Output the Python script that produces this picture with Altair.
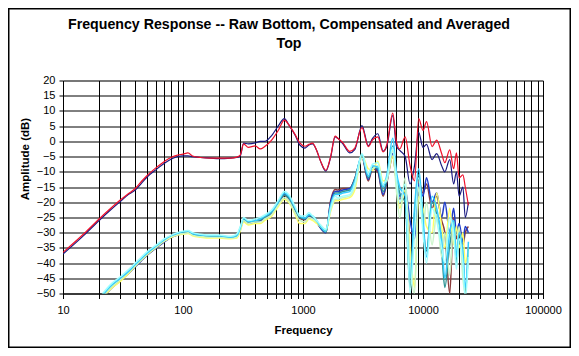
import altair as alt
import pandas as pd

FREQ = [10, 15, 20, 25, 30, 35, 40, 45, 50, 60, 70, 80, 90, 100, 110, 120, 140, 170, 200, 250,
        280, 300, 320, 350, 400, 440, 480, 550, 620, 700, 760, 860, 940, 1040, 1120, 1200, 1300,
        1400, 1550, 1700, 1850, 1950, 2150, 2450, 2700, 3100, 3500, 3800, 4200, 4650, 5000, 5600,
        6000, 6400, 7100, 7800, 8500, 9200, 10000, 10700, 11900, 13000, 14300, 15200, 16700, 18000,
        19000, 20000, 21500, 22500, 23900]

# lower (compensated / averaged top) curves
low_darkred = [None, None, -52.8, -48.3, -45.6, -43.3, -41, -39, -37.3, -34.8, -32.8, -31.4, -30.7, -30.2,
               -30, -30.8, -31.2, -31.3, -31.3, -31.8, -31.4, -28.8, -25.6, -26.8, -26.4, -26, -25.2, -23.6,
               -20.6, -17.8, -18.8, -22.6, -25.3, -25.8, -24.6, -25.2, -26.6, -28.4, -30, -19.5, -15.8, -16,
               -15.5, -15.5, -12.2, -5.2, -13, -9, -10, -18, -13.5, -5, -13, -19, -16, -30, -30, -13, -17,
               -14, -22, -18, -26, -30, -50, -25, -32, -29, -34, -30, -28]
low_blue = [None, None, -53, -48.5, -45.8, -43.5, -41.2, -39.2, -37.5, -35, -33, -31.5, -30.8, -30.2, -30,
            -30.5, -31.2, -31.3, -31.2, -31.8, -31.5, -29, -26, -27, -26.5, -26, -25, -23.5, -20.5, -17.5,
            -18.5, -22.5, -25, -25.5, -24.5, -25, -26.5, -28.5, -30, -20, -16.5, -16.5, -16, -15.5, -12.5,
            -5, -12.5, -8.5, -9.5, -17.5, -13, -4, -13, -18, -16, -26, -32, -14, -18, -12, -20, -17, -25,
            -20, -30, -22, -30, -27, -33, -28, -30]
low_teal = [None, None, -52.5, -48, -45.3, -43, -40.7, -38.7, -37, -34.5, -32.5, -31.2, -30.5, -30, -29.8,
            -30.6, -31, -31.2, -31.2, -31.6, -31.2, -28.5, -25.5, -26.5, -26.2, -25.8, -25, -23.3, -20.3,
            -17.6, -18.6, -22.3, -25, -25.5, -24.3, -24.8, -26.3, -28.2, -29.8, -21, -17, -17, -16.5, -16,
            -12.5, -4.8, -12, -8.5, -9, -16.5, -12.5, -1.5, -11, -17, -20, -48, -24, -11, -28, -36, -20,
            -24, -36, -48, -34, -28, -40, -33, -38, -50, -35]
low_yellow = [None, None, -53, -48.5, -46, -43.5, -41, -39, -37.3, -34.8, -32.8, -31.5, -30.8, -30.5, -30.3,
              -31, -31.5, -31.8, -31.8, -32, -31.8, -29.5, -26.5, -27.5, -27, -27, -26, -24.5, -21.5, -19,
              -20, -24, -27, -27, -25.5, -26, -27, -28, -29.5, -23, -19.5, -19.5, -19, -18.5, -16, -4.5, -9,
              -9.5, -6.5, -13, -12, -5, -14, -22, -16, -35, -48, -18, -22, -28, -30, -17, -28, -35, -22,
              -34, -28, -35, -30, -40, -35]
low_palegreen = [None, None, -52.5, -48, -45.5, -43, -40.8, -38.8, -37, -34.6, -32.6, -31.3, -30.6, -30.3,
                 -30, -30.8, -31.3, -31.5, -31.5, -31.8, -31.5, -29, -26, -27, -26.5, -26.5, -25.5, -24,
                 -21, -18.5, -19.5, -23.5, -26, -26.5, -25, -25.5, -26.5, -27.5, -29, -22.5, -19, -19,
                 -18.5, -18, -15, -5.5, -10, -9, -8, -14, -13, -3, -16, -25, -12, -40, -50, -15, -28, -20,
                 -34, -24, -38, -30, -44, -26, -36, -28, -45, -50, -36]
low_cyan = [None, None, -52, -47.5, -45, -42.8, -40.5, -38.5, -36.8, -34.3, -32.3, -31, -30.2, -29.7, -29.5,
            -30.3, -30.8, -31, -31, -31.5, -31, -28.5, -25.3, -26.3, -26, -25.5, -24.6, -23, -20, -17, -18,
            -22, -24.5, -25.2, -24, -24.5, -26, -28, -29.5, -21, -17.5, -17.5, -17, -16.5, -13, -4.3, -11.5,
            -8, -8.5, -15, -11, 1.0, -10, -15, -18, -45, -22, -9, -25, -38, -18, -22, -32, -45, -30, -26,
            -38, -30, -36, -48, -33]
low_lightcyan = [None, None, -51.5, -47, -44.5, -42.2, -40, -38, -36.3, -34, -32, -30.8, -30, -29.5, -29.3,
                 -30, -30.5, -30.8, -30.8, -31.2, -30.5, -28, -25, -26, -25.5, -25, -24.2, -22.5, -19.5,
                 -16.5, -17.5, -21.5, -24.5, -24.5, -23.5, -24.5, -26, -27.5, -29, -22, -18, -18.5, -18,
                 -17.5, -14, -4, -10.5, -7.5, -7, -14, -12, -2, -12, -20, -14, -50, -30, -12, -30, -40, -22,
                 -26, -35, -40, -25, -30, -42, -32, -40, -52, -38]

# upper (raw bottom) curves
raw_navy = [-37.0, -30.8, -26.0, -22.5, -19.8, -17.5, -16.0, -13.8, -11.8, -9.2, -7.2, -5.8, -5.0, -4.8, -4.8,
            -5.0, -5.3, -5.5, -5.7, -5.5, -5.3, -4.8, -0.6, -0.8, -0.5, 0.0, 0.0, 2.0, 5.0, 7.5, 5.5, 2.0,
            -1.2, -2.2, -1.2, -0.8, -3.0, -6.5, -9.8, -5.2, 1.5, 1.0, -0.8, -3.8, -2.7, 5.2, -1.5, 1.0, 2.5,
            -3.2, -1.5, 8.5, -1.5, -3.0, -5.0, -14.0, -8.0, 3.0, -2.0, -1.0, -6.0, -4.0, -8.0, -10.0, -6.0,
            -14.0, -10.0, -18.0, -15.0, -25.0, -20.0]
raw_red = [-36.5, -30.3, -25.5, -22.0, -19.3, -17.2, -15.5, -13.2, -11.3, -8.6, -6.6, -5.2, -4.5, -4.2, -3.8,
           -4.8, -5.3, -5.5, -5.5, -5.5, -5.2, -4.5, -0.8, -2.0, -1.5, -2.5, -1.7, 0.5, 3.5, 7.0, 5.5, 2.2,
           -0.5, -1.6, -1.0, -0.6, -3.0, -6.5, -9.5, -5.0, 1.7, 1.0, -0.5, -3.3, -2.2, 4.5, -1.7, 0.5, 1.5,
           -3.5, -1.0, 9.3, 0.0, -2.5, 1.5, -8.0, -13.0, 7.5, 3.6, 6.5, -1.7, 0.4, -4.0, -7.0, -2.8, -9.0,
           -3.8, -12.0, -11.0, -15.0, -21.0]

LOWER = [("Comp dark red", low_darkred), ("Comp blue", low_blue), ("Comp teal", low_teal),
         ("Comp yellow", low_yellow), ("Comp pale green", low_palegreen), ("Comp cyan", low_cyan),
         ("Comp light cyan", low_lightcyan)]
UPPER = [("Raw navy", raw_navy), ("Raw red", raw_red)]
NAMES = [n for n, _ in LOWER + UPPER]
COLORS = ["#8B3A3A", "#1E3CC8", "#2E9494", "#FFFF66", "#C8F5C8", "#33CCFF", "#A0FFFF", "#1A1A80", "#F0102A"]

X_TICKS = [m * 10 ** d for d in range(1, 5) for m in range(1, 10)] + [100000]
Y_TICKS = list(range(-50, 25, 5))


def frame(series):
    rows = []
    for name, vals in series:
        for f, v in zip(FREQ, vals):
            if v is not None:
                rows.append({"series": name, "freq": f, "db": v})
    return pd.DataFrame(rows)


FONT = "Liberation Sans"

x_enc = alt.X("freq:Q",
              scale=alt.Scale(type="log", domain=[10, 100000], nice=False),
              axis=alt.Axis(values=X_TICKS, format="d",
                            labelExpr="indexof([10,100,1000,10000,100000], datum.value) >= 0 ? datum.label : ''",
                            labelOverlap=False, labelFlush=False, grid=True, gridColor="black",
                            gridOpacity=1, gridWidth=1, tickColor="black", tickSize=5, domainColor="black",
                            labelFont=FONT, labelFontSize=11, labelColor="black", labelPadding=6,
                            title="Frequency", titleFont=FONT, titleFontSize=11.5, titleFontWeight="bold",
                            titleColor="black", titleBaseline="middle", titleY=37))
y_enc = alt.Y("db:Q",
              scale=alt.Scale(domain=[-50, 20], nice=False, zero=False),
              axis=alt.Axis(values=Y_TICKS, grid=True, gridColor="black", gridOpacity=1, gridWidth=1,
                            tickColor="black", tickSize=4, domainColor="black", labelFont=FONT,
                            labelFontSize=11, labelColor="black", labelPadding=4,
                            title="Amplitude (dB)", titleFont=FONT, titleFontSize=11.5,
                            titleFontWeight="bold", titleColor="black", titleBaseline="middle",
                            titleX=-38, titleY=78))
color_enc = alt.Color("series:N", scale=alt.Scale(domain=NAMES, range=COLORS), legend=None)

lower = alt.Chart(frame(LOWER)).mark_line(clip=True, strokeWidth=1.5, interpolate="monotone").encode(
    x=x_enc, y=y_enc, color=color_enc, order=alt.Order("freq:Q"))
upper = alt.Chart(frame(UPPER)).mark_line(clip=True, strokeWidth=1.2, interpolate="monotone").encode(
    x=x_enc, y=y_enc, color=color_enc, order=alt.Order("freq:Q"))

border = alt.Chart(alt.Data(values=[{"a": 1}])).mark_rect(
    fill="transparent", stroke="black", strokeWidth=1.5).encode(
    x=alt.value(-54.25), x2=alt.value(507.25), y=alt.value(-71.75), y2=alt.value(266.75))

chart = alt.layer(lower, upper, border).properties(
    width=480, height=213,
    padding={"left": 55, "top": 72.5, "right": 28, "bottom": 54.5},
    autosize=alt.AutoSizeParams(type="none"),
    title=alt.TitleParams(
        text=["Frequency Response -- Raw Bottom, Compensated and Averaged", "Top"],
        font=FONT, fontSize=14.2, fontWeight="bold", color="black", anchor="middle",
        frame="group", dx=-14, dy=73, offset=30, lineHeight=19),
).configure_view(stroke="#808080", strokeWidth=1).configure(background="white")

chart.save("out.html", embed_options={"renderer": "svg", "actions": False})
